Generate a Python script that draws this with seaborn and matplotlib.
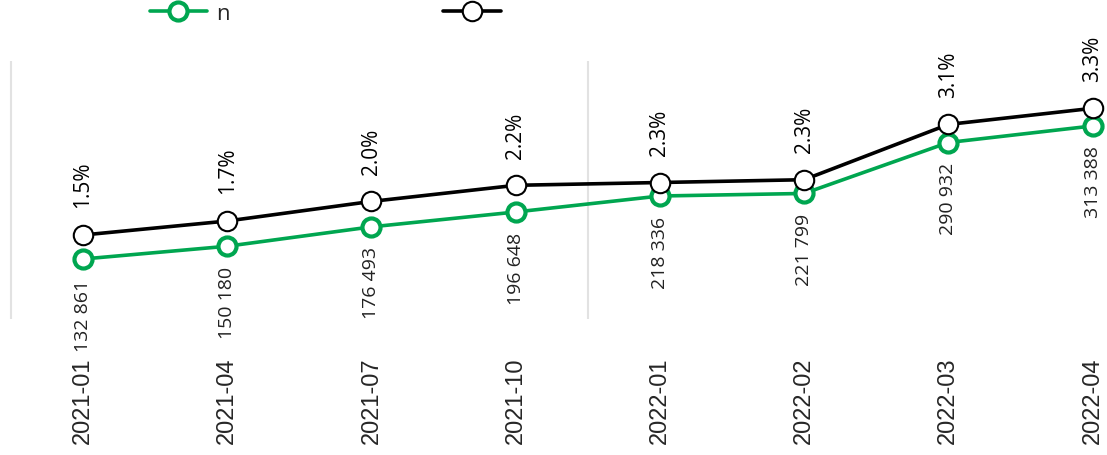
import pandas as pd
import seaborn as sns
import matplotlib.pyplot as plt

# Dados
periodos = ["2021-01", "2021-04", "2021-07", "2021-10", "2022-01", "2022-02", "2022-03", "2022-04"]
n_valores = [132861, 150180, 176493, 196648, 218336, 221799, 290932, 313388]
pct_valores = [1.50, 1.70, 1.98, 2.21, 2.25, 2.29, 3.08, 3.31]
pct_rotulos = ["1.5%", "1.7%", "2.0%", "2.2%", "2.3%", "2.3%", "3.1%", "3.3%"]
separadores = [-0.5, 3.5]

df = pd.DataFrame({"periodo": periodos, "n": n_valores, "pct": pct_valores})
df["pos"] = range(len(df))

verde = "#00A650"
fonte_rotulos = ["Open Sans", "DejaVu Sans"]
fonte_ticks = ["Liberation Sans", "DejaVu Sans"]

sns.set_style("white")
plt.rcParams["font.family"] = fonte_ticks

fig = plt.figure(figsize=(11.07, 4.56), dpi=100)
ax = fig.add_axes([8 / 1107, 1 - 320 / 456, 1 - 8 / 1107, (320 - 62) / 456])
ax2 = ax.twinx()

for x in separadores:
    ax.axvline(x, color="#e2e2e2", lw=1.5, zorder=0)

sns.lineplot(data=df, x="pos", y="n", ax=ax, color=verde, lw=2.6,
             marker="o", markersize=13, markerfacecolor="white",
             markeredgecolor=verde, markeredgewidth=3, label="n", legend=False)
sns.lineplot(data=df, x="pos", y="pct", ax=ax2, color="black", lw=2.6,
             marker="o", markersize=14, markerfacecolor="white",
             markeredgecolor="black", markeredgewidth=1.5, label="", legend=False)

# rotulos dos valores
for i, row in df.iterrows():
    ax.annotate(f"{row['n']:,}".replace(",", " "), (row["pos"], row["n"]),
                xytext=(0, -14), textcoords="offset points", rotation=90,
                ha="center", va="top", fontsize=14, family=fonte_rotulos,
                color="#222222")
    ax2.annotate(pct_rotulos[i], (row["pos"], row["pct"]),
                 xytext=(0, 20), textcoords="offset points", rotation=90,
                 ha="center", va="bottom", fontsize=15, family=fonte_rotulos,
                 color="black")

ax.set_xlim(-0.52, 7.1)
ax.set_ylim(51450, 401518)
ax2.set_ylim(0.3, 3.986)

ax.set_xticks(df["pos"])
ax.set_xticklabels(periodos, rotation=90, fontsize=17, family=fonte_ticks)
ax.tick_params(axis="x", length=0, pad=27)
ax.set_yticks([])
ax2.set_yticks([])
ax.set_xlabel("")
ax.set_ylabel("")
ax2.set_ylabel("")
for a in (ax, ax2):
    for s in a.spines.values():
        s.set_visible(False)

h1 = ax.get_lines()[-1]
h2 = ax2.get_lines()[-1]
fig.legend([h1, h2], ["n", ""], loc="center left",
           bbox_to_anchor=(0.117, 1 - 14 / 456), ncol=2, frameon=False,
           handlelength=2.6, handletextpad=0.4, columnspacing=9.6,
           prop={"family": fonte_rotulos, "size": 16})

fig.savefig("out.png", dpi=100)
